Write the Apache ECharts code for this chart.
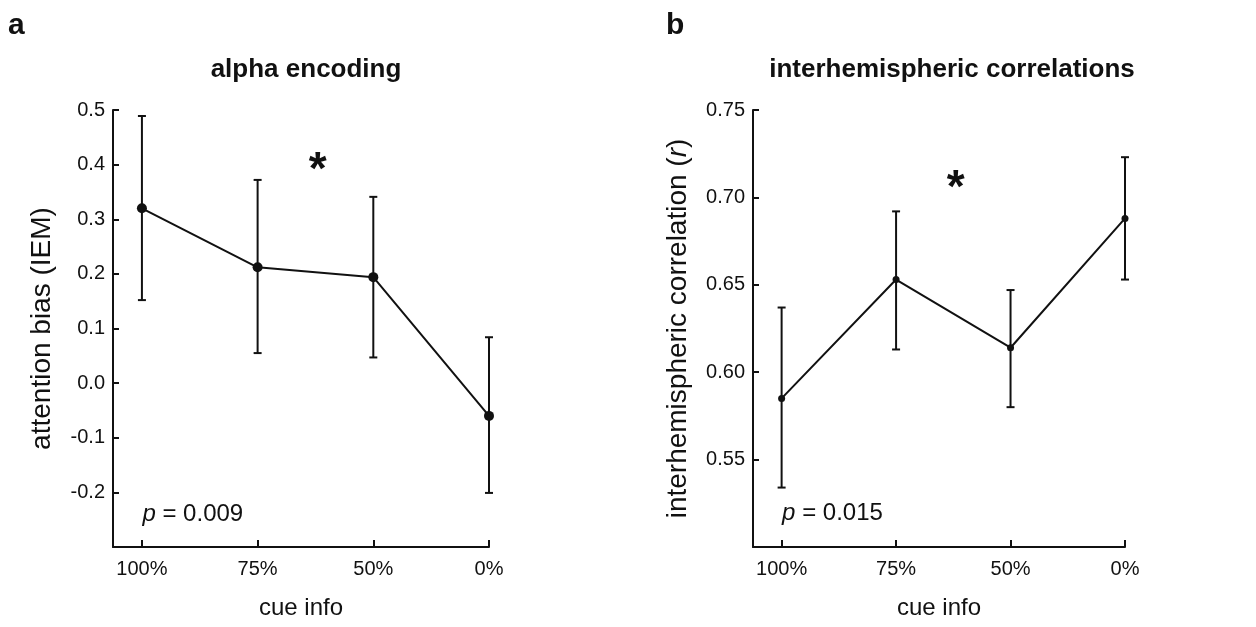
<!DOCTYPE html>
<html><head><meta charset="utf-8">
<script src="https://cdn.jsdelivr.net/npm/echarts@6/dist/echarts.min.js"></script>
<style>html,body{margin:0;padding:0;background:#fff}#c{width:1256px;height:627px}</style>
</head><body><div id="c"></div>
<script>
// ---- data ----
const categories = ['100%', '75%', '50%', '0%'];
const alphaMean  = [0.320, 0.212, 0.194, -0.060];
const alphaUpper = [0.489, 0.372, 0.341, 0.084];
const alphaLower = [0.152, 0.055, 0.047, -0.201];
const corrMean   = [0.585, 0.653, 0.614, 0.688];
const corrUpper  = [0.637, 0.692, 0.647, 0.723];
const corrLower  = [0.534, 0.613, 0.580, 0.653];
const alphaYTicks = [-0.2, -0.1, 0.0, 0.1, 0.2, 0.3, 0.4, 0.5];
const corrYTicks  = [0.55, 0.60, 0.65, 0.70, 0.75];
const starLeft  = [1.52, 0.405];
const starRight = [1.52, 0.710];
const pLeft  = {x: 0, y: -0.240, val: '0.009'};
const pRight = {x: 0, y: 0.519, val: '0.015'};
const titles = ['alpha encoding', 'interhemispheric correlations'];
const panelLetters = ['a', 'b'];
const yNames = ['attention bias (IEM)', 'interhemispheric correlation ({i|r})'];
const xName = 'cue info';

const FONT = '"Liberation Sans", Arial, Helvetica, sans-serif';
const INK = '#111';
const xIdx = categories.map((_, i) => i);

function pts(arr) { return arr.map((v, i) => [i, v]); }
function errData(lo, hi) { return lo.map((v, i) => [i, v, hi[i]]); }

function errSeries(xi, yi, lo, hi) {
  return {
    type: 'custom', xAxisIndex: xi, yAxisIndex: yi, z: 3,
    data: errData(lo, hi),
    renderItem: function (params, api) {
      const x = api.value(0);
      const a = api.coord([x, api.value(1)]);
      const b = api.coord([x, api.value(2)]);
      const w = 4;
      const st = {stroke: INK, lineWidth: 2};
      return {type: 'group', children: [
        {type: 'line', shape: {x1: a[0], y1: a[1], x2: b[0], y2: b[1]}, style: st},
        {type: 'line', shape: {x1: a[0] - w, y1: a[1], x2: a[0] + w, y2: a[1]}, style: st},
        {type: 'line', shape: {x1: b[0] - w, y1: b[1], x2: b[0] + w, y2: b[1]}, style: st}
      ]};
    }
  };
}

function lineSeries(xi, yi, mean, size) {
  return {
    type: 'line', xAxisIndex: xi, yAxisIndex: yi, z: 4,
    data: pts(mean), symbol: 'circle', symbolSize: size,
    lineStyle: {color: INK, width: 2}, itemStyle: {color: INK},
    animation: false
  };
}

function starSeries(xi, yi, pos) {
  return {
    type: 'scatter', xAxisIndex: xi, yAxisIndex: yi, z: 5,
    data: [pos], symbolSize: 1, itemStyle: {color: 'rgba(0,0,0,0)', opacity: 1},
    label: {show: true, position: 'inside', formatter: '*', fontFamily: FONT,
      fontWeight: 'bold', fontSize: 46, color: INK, opacity: 1, offset: [0, 9]},
    silent: true
  };
}

function pSeries(xi, yi, p) {
  return {
    type: 'scatter', xAxisIndex: xi, yAxisIndex: yi, z: 5,
    data: [[p.x, p.y]], symbolSize: 1, itemStyle: {color: 'rgba(0,0,0,0)', opacity: 1},
    label: {show: true, position: 'right', distance: 0, opacity: 1,
      formatter: '{i|p} = ' + p.val,
      fontFamily: FONT, fontSize: 24, color: INK,
      rich: {i: {fontStyle: 'italic', fontFamily: FONT, fontSize: 24, color: INK}}},
    silent: true
  };
}

function xAxis(gi) {
  return {
    type: 'value', gridIndex: gi, min: -0.25, max: 3,
    name: xName, nameLocation: 'middle', nameGap: 49,
    nameTextStyle: {fontFamily: FONT, fontSize: 24, color: INK},
    axisLine: {show: true, onZero: false, lineStyle: {color: INK, width: 2}},
    axisTick: {show: true, inside: true, length: 7, customValues: xIdx, lineStyle: {color: INK, width: 2}},
    axisLabel: {customValues: xIdx, formatter: v => categories[Math.round(v)], margin: 12,
      fontFamily: FONT, fontSize: 20, color: INK},
    splitLine: {show: false}
  };
}

function yAxis(gi, min, max, ticks, dec, gap, name) {
  return {
    type: 'value', gridIndex: gi, min: min, max: max,
    name: name, nameLocation: 'middle', nameGap: gap,
    nameTextStyle: {fontFamily: FONT, fontSize: 28, color: INK,
      rich: {i: {fontStyle: 'italic', fontFamily: FONT, fontSize: 28, color: INK}}},
    axisLine: {show: true, onZero: false, lineStyle: {color: INK, width: 2}},
    axisTick: {show: true, inside: true, length: 6, customValues: ticks, lineStyle: {color: INK, width: 2}},
    axisLabel: {customValues: ticks, formatter: v => v.toFixed(dec), margin: 8,
      fontFamily: FONT, fontSize: 20, color: INK},
    splitLine: {show: false}
  };
}

const chart = echarts.init(document.getElementById('c'), null, {renderer: 'canvas'});
chart.setOption({
  backgroundColor: '#fff',
  animation: false,
  title: [
    {text: titles[0], left: 301, top: 52, textAlign: 'center',
      textStyle: {fontFamily: FONT, fontWeight: 'bold', fontSize: 26, color: INK}},
    {text: titles[1], left: 947, top: 52, textAlign: 'center',
      textStyle: {fontFamily: FONT, fontWeight: 'bold', fontSize: 26, color: INK}},
    {text: panelLetters[0], left: 3, top: 6,
      textStyle: {fontFamily: FONT, fontWeight: 'bold', fontSize: 30, color: INK}},
    {text: panelLetters[1], left: 661, top: 6,
      textStyle: {fontFamily: FONT, fontWeight: 'bold', fontSize: 30, color: INK}}
  ],
  grid: [
    {left: 113, right: 1256 - 489, top: 110, bottom: 627 - 547},
    {left: 753, right: 1256 - 1125, top: 110, bottom: 627 - 547}
  ],
  xAxis: [xAxis(0), xAxis(1)],
  yAxis: [
    yAxis(0, -0.3, 0.5, alphaYTicks, 1, 57, yNames[0]),
    yAxis(1, 0.5, 0.75, corrYTicks, 2, 61, yNames[1])
  ],
  series: [
    errSeries(0, 0, alphaLower, alphaUpper),
    lineSeries(0, 0, alphaMean, 10),
    starSeries(0, 0, starLeft),
    pSeries(0, 0, pLeft),
    errSeries(1, 1, corrLower, corrUpper),
    lineSeries(1, 1, corrMean, 7),
    starSeries(1, 1, starRight),
    pSeries(1, 1, pRight)
  ]
});
</script>
</body></html>
